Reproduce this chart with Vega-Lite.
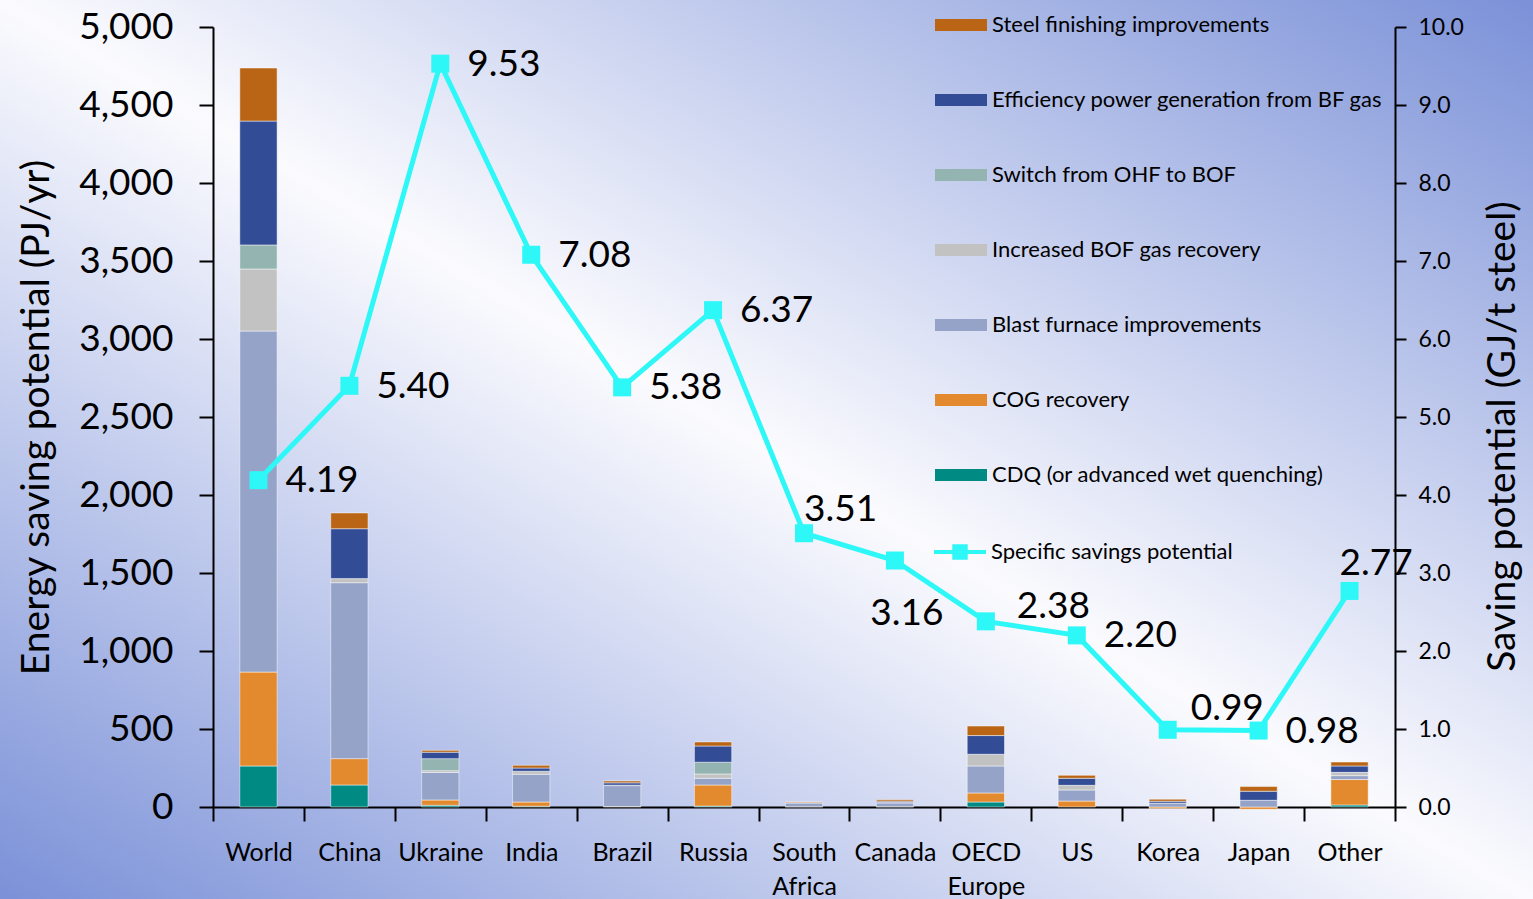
{
  "$schema": "https://vega.github.io/schema/vega-lite/v6.json",
  "width": 1533,
  "height": 899,
  "autosize": {"type": "none"},
  "padding": 0,
  "background": "#ffffff",
  "config": {
    "font": "Lato",
    "view": {
      "stroke": null,
      "fill": {
        "gradient": "linear",
        "x1": 0, "y1": 1, "x2": 1, "y2": 0,
        "stops": [
          {"offset": 0, "color": "#7b91d8"},
          {"offset": 0.5, "color": "#fbfbfe"},
          {"offset": 1, "color": "#7b91d8"}
        ]
      }
    },
    "axis": {
      "domainColor": "#000000",
      "domainWidth": 2,
      "tickColor": "#000000",
      "tickWidth": 2,
      "labelColor": "#000000",
      "titleColor": "#000000",
      "grid": false,
      "labelFont": "Lato",
      "titleFont": "Lato",
      "titleFontWeight": "normal"
    }
  },
  "datasets": {
    "bars": [
      {"country": "World", "measure": "CDQ (or advanced wet quenching)", "k": 1, "value": 263},
      {"country": "World", "measure": "COG recovery", "k": 2, "value": 602},
      {"country": "World", "measure": "Blast furnace improvements", "k": 3, "value": 2186},
      {"country": "World", "measure": "Increased BOF gas recovery", "k": 4, "value": 398},
      {"country": "World", "measure": "Switch from OHF to BOF", "k": 5, "value": 154},
      {"country": "World", "measure": "Efficiency power generation from BF gas", "k": 6, "value": 794},
      {"country": "World", "measure": "Steel finishing improvements", "k": 7, "value": 340},
      {"country": "China", "measure": "CDQ (or advanced wet quenching)", "k": 1, "value": 141},
      {"country": "China", "measure": "COG recovery", "k": 2, "value": 169},
      {"country": "China", "measure": "Blast furnace improvements", "k": 3, "value": 1128},
      {"country": "China", "measure": "Increased BOF gas recovery", "k": 4, "value": 26},
      {"country": "China", "measure": "Efficiency power generation from BF gas", "k": 6, "value": 320},
      {"country": "China", "measure": "Steel finishing improvements", "k": 7, "value": 101},
      {"country": "Ukraine", "measure": "CDQ (or advanced wet quenching)", "k": 1, "value": 11},
      {"country": "Ukraine", "measure": "COG recovery", "k": 2, "value": 34},
      {"country": "Ukraine", "measure": "Blast furnace improvements", "k": 3, "value": 176},
      {"country": "Ukraine", "measure": "Increased BOF gas recovery", "k": 4, "value": 12},
      {"country": "Ukraine", "measure": "Switch from OHF to BOF", "k": 5, "value": 77},
      {"country": "Ukraine", "measure": "Efficiency power generation from BF gas", "k": 6, "value": 41},
      {"country": "Ukraine", "measure": "Steel finishing improvements", "k": 7, "value": 12},
      {"country": "India", "measure": "CDQ (or advanced wet quenching)", "k": 1, "value": 5},
      {"country": "India", "measure": "COG recovery", "k": 2, "value": 27},
      {"country": "India", "measure": "Blast furnace improvements", "k": 3, "value": 178},
      {"country": "India", "measure": "Increased BOF gas recovery", "k": 4, "value": 19},
      {"country": "India", "measure": "Efficiency power generation from BF gas", "k": 6, "value": 21},
      {"country": "India", "measure": "Steel finishing improvements", "k": 7, "value": 17},
      {"country": "Brazil", "measure": "COG recovery", "k": 2, "value": 3},
      {"country": "Brazil", "measure": "Blast furnace improvements", "k": 3, "value": 134},
      {"country": "Brazil", "measure": "Increased BOF gas recovery", "k": 4, "value": 3},
      {"country": "Brazil", "measure": "Efficiency power generation from BF gas", "k": 6, "value": 15},
      {"country": "Brazil", "measure": "Steel finishing improvements", "k": 7, "value": 12},
      {"country": "Russia", "measure": "CDQ (or advanced wet quenching)", "k": 1, "value": 6},
      {"country": "Russia", "measure": "COG recovery", "k": 2, "value": 135},
      {"country": "Russia", "measure": "Blast furnace improvements", "k": 3, "value": 43},
      {"country": "Russia", "measure": "Increased BOF gas recovery", "k": 4, "value": 28},
      {"country": "Russia", "measure": "Switch from OHF to BOF", "k": 5, "value": 75},
      {"country": "Russia", "measure": "Efficiency power generation from BF gas", "k": 6, "value": 104},
      {"country": "Russia", "measure": "Steel finishing improvements", "k": 7, "value": 26},
      {"country": "South Africa", "measure": "COG recovery", "k": 2, "value": 2},
      {"country": "South Africa", "measure": "Blast furnace improvements", "k": 3, "value": 24},
      {"country": "South Africa", "measure": "Efficiency power generation from BF gas", "k": 6, "value": 2},
      {"country": "South Africa", "measure": "Steel finishing improvements", "k": 7, "value": 4},
      {"country": "Canada", "measure": "COG recovery", "k": 2, "value": 2},
      {"country": "Canada", "measure": "Blast furnace improvements", "k": 3, "value": 24},
      {"country": "Canada", "measure": "Increased BOF gas recovery", "k": 4, "value": 3},
      {"country": "Canada", "measure": "Efficiency power generation from BF gas", "k": 6, "value": 8},
      {"country": "Canada", "measure": "Steel finishing improvements", "k": 7, "value": 9},
      {"country": "OECD Europe", "measure": "CDQ (or advanced wet quenching)", "k": 1, "value": 32},
      {"country": "OECD Europe", "measure": "COG recovery", "k": 2, "value": 58},
      {"country": "OECD Europe", "measure": "Blast furnace improvements", "k": 3, "value": 173},
      {"country": "OECD Europe", "measure": "Increased BOF gas recovery", "k": 4, "value": 75},
      {"country": "OECD Europe", "measure": "Efficiency power generation from BF gas", "k": 6, "value": 120},
      {"country": "OECD Europe", "measure": "Steel finishing improvements", "k": 7, "value": 61},
      {"country": "US", "measure": "COG recovery", "k": 2, "value": 38},
      {"country": "US", "measure": "Blast furnace improvements", "k": 3, "value": 71},
      {"country": "US", "measure": "Increased BOF gas recovery", "k": 4, "value": 30},
      {"country": "US", "measure": "Efficiency power generation from BF gas", "k": 6, "value": 45},
      {"country": "US", "measure": "Steel finishing improvements", "k": 7, "value": 19},
      {"country": "Korea", "measure": "COG recovery", "k": 2, "value": -10},
      {"country": "Korea", "measure": "Blast furnace improvements", "k": 3, "value": 25},
      {"country": "Korea", "measure": "Efficiency power generation from BF gas", "k": 6, "value": 12},
      {"country": "Korea", "measure": "Steel finishing improvements", "k": 7, "value": 13},
      {"country": "Japan", "measure": "COG recovery", "k": 2, "value": -15},
      {"country": "Japan", "measure": "Blast furnace improvements", "k": 3, "value": 43},
      {"country": "Japan", "measure": "Efficiency power generation from BF gas", "k": 6, "value": 58},
      {"country": "Japan", "measure": "Steel finishing improvements", "k": 7, "value": 30},
      {"country": "Other", "measure": "CDQ (or advanced wet quenching)", "k": 1, "value": 13},
      {"country": "Other", "measure": "COG recovery", "k": 2, "value": 163},
      {"country": "Other", "measure": "Blast furnace improvements", "k": 3, "value": 25},
      {"country": "Other", "measure": "Increased BOF gas recovery", "k": 4, "value": 21},
      {"country": "Other", "measure": "Efficiency power generation from BF gas", "k": 6, "value": 41},
      {"country": "Other", "measure": "Steel finishing improvements", "k": 7, "value": 25}
    ],
    "line": [
      {"country": "World", "specific": 4.19},
      {"country": "China", "specific": 5.40},
      {"country": "Ukraine", "specific": 9.53},
      {"country": "India", "specific": 7.08},
      {"country": "Brazil", "specific": 5.38},
      {"country": "Russia", "specific": 6.37},
      {"country": "South Africa", "specific": 3.51},
      {"country": "Canada", "specific": 3.16},
      {"country": "OECD Europe", "specific": 2.38},
      {"country": "US", "specific": 2.20},
      {"country": "Korea", "specific": 0.99},
      {"country": "Japan", "specific": 0.98},
      {"country": "Other", "specific": 2.77}
    ]
  },
  "encoding": {
    "x": {
      "field": "country",
      "type": "nominal",
      "sort": ["World", "China", "Ukraine", "India", "Brazil", "Russia", "South Africa", "Canada", "OECD Europe", "US", "Korea", "Japan", "Other"],
      "scale": {"range": [213, 1395], "paddingInner": 0, "paddingOuter": 0},
      "axis": {
        "title": null,
        "orient": "bottom",
        "offset": -92,
        "labelAngle": 0,
        "labelFontSize": 25,
        "labelPadding": 19,
        "labelLineHeight": 34,
        "labelExpr": "split(datum.label, ' ')",
        "tickSize": 14,
        "tickBand": "extent"
      }
    }
  },
  "layer": [
    {
      "data": {"name": "bars"},
      "mark": {"type": "bar", "width": {"band": 0.41}, "stroke": "#ffffff", "strokeWidth": 0.8, "strokeOpacity": 0.6},
      "encoding": {
        "y": {
          "field": "value",
          "type": "quantitative",
          "aggregate": "sum",
          "stack": "zero",
          "scale": {"domain": [0, 5000], "range": [807, 27], "nice": false},
          "axis": {
            "orient": "left",
            "offset": -213,
            "title": "Energy saving potential (PJ/yr)",
            "titleFontSize": 39,
            "titlePadding": 22,
            "values": [0, 500, 1000, 1500, 2000, 2500, 3000, 3500, 4000, 4500, 5000],
            "format": ",.0f",
            "labelFontSize": 37,
            "labelPadding": 26,
            "tickSize": 14
          }
        },
        "color": {
          "field": "measure",
          "type": "nominal",
          "scale": {
            "domain": ["Steel finishing improvements", "Efficiency power generation from BF gas", "Switch from OHF to BOF", "Increased BOF gas recovery", "Blast furnace improvements", "COG recovery", "CDQ (or advanced wet quenching)"],
            "range": ["#b96515", "#334c96", "#93b4b0", "#c2c2c2", "#95a3c8", "#e38a2f", "#008a84"]
          },
          "legend": {
            "title": null,
            "orient": "none",
            "legendX": 935,
            "legendY": -1,
            "labelFontSize": 22,
            "labelFont": "Lato",
            "labelColor": "#000000",
            "labelOffset": 5,
            "symbolType": "M-1,-0.23L1,-0.23L1,0.23L-1,0.23Z",
            "symbolSize": 2704,
            "symbolStrokeWidth": 0,
            "symbolOpacity": 1,
            "rowPadding": 38,
            "labelLimit": 600
          }
        },
        "order": {"field": "k", "type": "quantitative"}
      }
    },
    {
      "data": {"name": "line"},
      "encoding": {
        "y": {
          "field": "specific",
          "type": "quantitative",
          "scale": {"domain": [0, 10], "range": [807, 27], "nice": false},
          "axis": {
            "orient": "right",
            "offset": -138,
            "title": "Saving potential (GJ/t steel)",
            "titleFontSize": 39,
            "titlePadding": 20,
            "titleAngle": 270,
            "titleBaseline": "top",
            "titleY": 436,
            "values": [0, 1, 2, 3, 4, 5, 6, 7, 8, 9, 10],
            "format": ".1f",
            "labelFontSize": 23,
            "labelPadding": 12,
            "tickSize": 11
          }
        }
      },
      "layer": [
        {
          "mark": {"type": "line", "strokeWidth": 5},
          "encoding": {
            "stroke": {
              "datum": "Specific savings potential",
              "scale": {"domain": ["Specific savings potential"], "range": ["#2ef7f7"]},
              "legend": {
                "title": null,
                "orient": "none",
                "legendX": 932,
                "legendY": 524,
                "labelFontSize": 22,
                "labelFont": "Lato",
                "labelColor": "#000000",
                "labelOffset": 3,
                "symbolType": "M-1,0L1,0M-0.22,-0.22L0.22,-0.22L0.22,0.22L-0.22,0.22Z",
                "symbolSize": 2704,
                "symbolStrokeWidth": 4,
                "symbolFillColor": "#2ef7f7",
                "symbolStrokeColor": "#2ef7f7",
                "symbolOpacity": 1,
                "labelLimit": 600
              }
            }
          }
        },
        {
          "mark": {"type": "point", "shape": "square", "filled": true, "size": 324, "opacity": 1, "color": "#2ef7f7"}
        },
        {
          "transform": [{"filter": {"field": "country", "oneOf": ["World", "China", "Ukraine", "India", "Brazil", "Russia", "US", "Japan"]}}],
          "mark": {"type": "text", "align": "left", "baseline": "middle", "dx": 27, "dy": 1, "fontSize": 37, "color": "#000000"},
          "encoding": {"text": {"field": "specific", "type": "quantitative", "format": ".2f"}}
        },
        {
          "transform": [{"filter": {"field": "country", "equal": "South Africa"}}],
          "mark": {"type": "text", "align": "left", "baseline": "middle", "dx": 0, "dy": -23, "fontSize": 37, "color": "#000000"},
          "encoding": {"text": {"field": "specific", "type": "quantitative", "format": ".2f"}}
        },
        {
          "transform": [{"filter": {"field": "country", "equal": "Canada"}}],
          "mark": {"type": "text", "align": "center", "baseline": "middle", "dx": 12, "dy": 53, "fontSize": 37, "color": "#000000"},
          "encoding": {"text": {"field": "specific", "type": "quantitative", "format": ".2f"}}
        },
        {
          "transform": [{"filter": {"field": "country", "equal": "OECD Europe"}}],
          "mark": {"type": "text", "align": "left", "baseline": "middle", "dx": 31, "dy": -14, "fontSize": 37, "color": "#000000"},
          "encoding": {"text": {"field": "specific", "type": "quantitative", "format": ".2f"}}
        },
        {
          "transform": [{"filter": {"field": "country", "equal": "Korea"}}],
          "mark": {"type": "text", "align": "left", "baseline": "middle", "dx": 23, "dy": -21, "fontSize": 37, "color": "#000000"},
          "encoding": {"text": {"field": "specific", "type": "quantitative", "format": ".2f"}}
        },
        {
          "transform": [{"filter": {"field": "country", "equal": "Other"}}],
          "mark": {"type": "text", "align": "left", "baseline": "middle", "dx": -10, "dy": -27, "fontSize": 37, "color": "#000000"},
          "encoding": {"text": {"field": "specific", "type": "quantitative", "format": ".2f"}}
        }
      ]
    }
  ],
  "resolve": {"scale": {"y": "independent"}}
}
